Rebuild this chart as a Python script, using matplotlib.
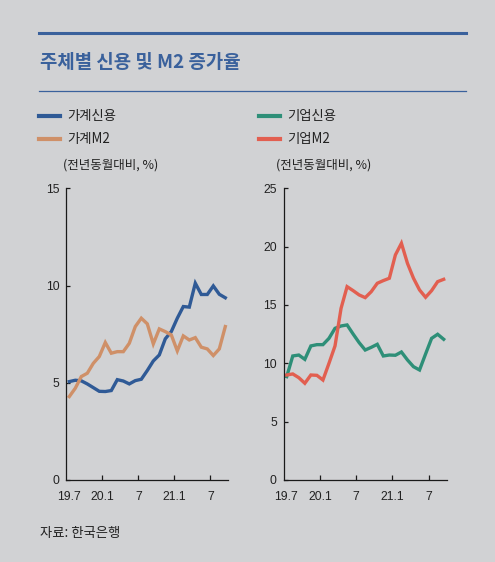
import matplotlib
matplotlib.use("Agg")
import matplotlib.pyplot as plt
from matplotlib.lines import Line2D
from matplotlib import font_manager as fm

W, H = 495, 562

# ---- data (year-over-year %, monthly 2019.7 - 2021.9) ----
household_credit = [5.06, 5.13, 5.10, 4.94, 4.75, 4.56, 4.55, 4.60, 5.16, 5.09,
                    4.94, 5.11, 5.18, 5.63, 6.12, 6.43, 7.26, 7.63, 8.32, 8.92,
                    8.89, 10.12, 9.54, 9.54, 9.98, 9.55, 9.37]
household_m2 = [4.29, 4.72, 5.32, 5.49, 6.00, 6.35, 7.07, 6.52, 6.60, 6.60,
                7.03, 7.89, 8.32, 8.03, 7.00, 7.77, 7.63, 7.46, 6.64, 7.41,
                7.20, 7.32, 6.83, 6.74, 6.40, 6.74, 7.89]
corp_credit = [8.86, 10.63, 10.71, 10.34, 11.49, 11.60, 11.60, 12.14, 13.00, 13.20,
               13.29, 12.51, 11.77, 11.14, 11.37, 11.63, 10.63, 10.71, 10.69, 10.97,
               10.29, 9.71, 9.43, 10.80, 12.14, 12.49, 12.06]
corp_m2 = [9.00, 9.09, 8.77, 8.29, 9.00, 8.97, 8.57, 10.00, 11.49, 14.71,
           16.57, 16.23, 15.86, 15.63, 16.14, 16.86, 17.09, 17.29, 19.29, 20.29,
           18.57, 17.29, 16.29, 15.66, 16.23, 17.00, 17.20]

tick_pos = [6, 12, 18, 24]
tick_labels = ["20.1", "7", "21.1", "7"]
first_label = "19.7"

labels_left = ["가계신용", "가계M2"]
labels_right = ["기업신용", "기업M2"]
unit_label = "(전년동월대비, %)"
title = "주체별 신용 및 M2 증가율"
source = "자료: 한국은행"

# ---- style ----
BG = "#d1d2d4"
C_BLUE = "#2f5a96"
C_ORANGE = "#cf9068"
C_GREEN = "#2e8f78"
C_RED = "#e25f50"
TITLE_C = "#3a619c"
TXT = "#222222"

names = {f.name for f in fm.fontManager.ttflist}
NUMFONT = "Liberation Sans Narrow" if "Liberation Sans Narrow" in names else "Liberation Sans"
KR = ["Noto Sans CJK KR", "DejaVu Sans"]
plt.rcParams["font.family"] = KR

fig = plt.figure(figsize=(W / 100, H / 100), dpi=100, facecolor=BG)


def fx(px):
    return px / W


def fy(py):
    return 1 - py / H


# decorative rules
fig.add_artist(Line2D([fx(39), fx(466)], [fy(33.3), fy(33.3)], color=TITLE_C, lw=2.2,
                      transform=fig.transFigure))
fig.add_artist(Line2D([fx(39), fx(466)], [fy(91), fy(91)], color=TITLE_C, lw=0.9,
                      transform=fig.transFigure))
fig.text(fx(40), fy(62), title, fontsize=13.6, fontweight="bold", color=TITLE_C,
         va="center", ha="left")

ax1 = fig.add_axes([fx(66.3), fy(480), fx(228.3) - fx(66.3), fy(188.3) - fy(480)])
ax2 = fig.add_axes([fx(283.7), fy(480), fx(446.7) - fx(283.7), fy(188.3) - fy(480)])

x = [i + 0.5 for i in range(len(household_credit))]

l1, = ax1.plot(x, household_credit, color=C_BLUE, lw=2.4, solid_joinstyle="miter")
l2, = ax1.plot(x, household_m2, color=C_ORANGE, lw=2.4, solid_joinstyle="miter")
l3, = ax2.plot(x, corp_credit, color=C_GREEN, lw=2.4, solid_joinstyle="miter")
l4, = ax2.plot(x, corp_m2, color=C_RED, lw=2.4, solid_joinstyle="miter")

for ax, top in ((ax1, 15), (ax2, 25)):
    ax.set_facecolor(BG)
    ax.set_xlim(0, 27)
    ax.set_ylim(0, top)
    ax.set_yticks(list(range(0, top + 1, 5)))
    ax.set_xticks(tick_pos)
    ax.set_xticklabels(tick_labels)
    ax.set_xticks([0.45], minor=True)
    ax.set_xticklabels([first_label], minor=True)
    for s in ("top", "right"):
        ax.spines[s].set_visible(False)
    for s in ("left", "bottom"):
        ax.spines[s].set_color("#1a1a1a")
        ax.spines[s].set_linewidth(0.9)
    ax.tick_params(axis="y", direction="in", length=3, width=0.9, color="#1a1a1a",
                   pad=5, labelsize=8.8, labelcolor=TXT)
    ax.tick_params(axis="x", which="major", direction="in", length=3.8, width=0.9,
                   color="#1a1a1a", pad=8, labelsize=8.8, labelcolor=TXT)
    ax.tick_params(axis="x", which="minor", length=0, pad=8, labelsize=8.8,
                   labelcolor=TXT)
    for lab in ax.get_xticklabels(which="both") + ax.get_yticklabels():
        lab.set_fontfamily(NUMFONT)

# legends (one entry each, placed precisely)
entries = [(l1, labels_left[0], 39, 116.3), (l2, labels_left[1], 39, 139.3),
           (l3, labels_right[0], 259, 116.3), (l4, labels_right[1], 259, 139.3)]
for h, lab, px, py in entries:
    lg = fig.legend([h], [lab], loc="center left", bbox_to_anchor=(fx(px), fy(py)),
                    bbox_transform=fig.transFigure, frameon=False, borderpad=0,
                    borderaxespad=0, handlelength=1.6, handletextpad=0.53,
                    fontsize=9.6)
    for t in lg.get_texts():
        t.set_color(TXT)
    for ln in lg.get_lines():
        ln.set_linewidth(3)

fig.text(fx(63), fy(165), unit_label, fontsize=9, color=TXT, va="center", ha="left")
fig.text(fx(276), fy(165), unit_label, fontsize=9, color=TXT, va="center", ha="left")
fig.text(fx(40), fy(533), source, fontsize=9.6, color=TXT, va="center", ha="left")

fig.savefig("out.png", dpi=100, facecolor=BG)
